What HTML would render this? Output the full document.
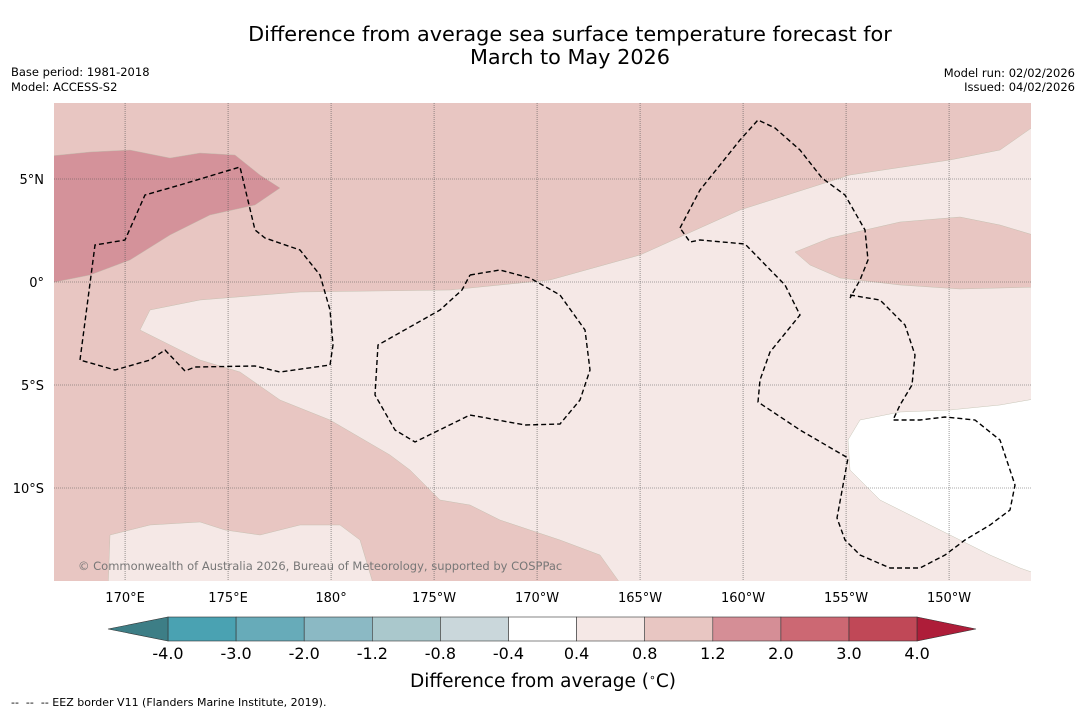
<!DOCTYPE html>
<html><head><meta charset="utf-8"><style>
body{margin:0;background:#fff;font-family:"Liberation Sans","DejaVu Sans",sans-serif}
svg{display:block}
text{font-family:"DejaVu Sans","Liberation Sans",sans-serif;white-space:pre}
</style></head><body>
<svg id="chart" width="1085" height="713" viewBox="0 0 1085 713">
<text x="570" y="41" font-size="20.8" text-anchor="middle">Difference from average sea surface temperature forecast for</text>
<text x="570" y="64" font-size="20.8" text-anchor="middle">March to May 2026</text>
<text x="11" y="76" font-size="11.5">Base period: 1981-2018</text>
<text x="11" y="91" font-size="11.5">Model: ACCESS-S2</text>
<text x="1075" y="77" font-size="11.5" text-anchor="end">Model run: 02/02/2026</text>
<text x="1075" y="91" font-size="11.5" text-anchor="end">Issued: 04/02/2026</text>
<defs><clipPath id="mapclip"><rect x="54" y="103" width="977" height="478"/></clipPath></defs>
<g id="map" clip-path="url(#mapclip)"></g>
<g id="axes"></g>
<g id="cbar"></g>
<text x="543" y="687" font-size="18.5" text-anchor="middle">Difference from average (<tspan baseline-shift="super" font-size="11">∘</tspan>C)</text>
<text x="11" y="706" font-size="11" xml:space="preserve">--  --  -- EEZ border V11 (Flanders Marine Institute, 2019).</text>
</svg>
<script>
const lonTicks=[170,175,180,185,190,195,200,205,210];
const lonLabels=["170°E","175°E","180°","175°W","170°W","165°W","160°W","155°W","150°W"];
const latTicks=[5,0,-5,-10];
const latLabels=["5°N","0°","5°S","10°S"];
const cbLevels=["-4.0","-3.0","-2.0","-1.2","-0.8","-0.4","0.4","0.8","1.2","2.0","3.0","4.0"];
const cbColors=["#4aa2b2","#67abb9","#8bb9c4","#aac8cc","#cad7db","#ffffff","#f5e8e6","#e8c6c2","#d58e96","#cc6873","#c04857"];
const cbUnder="#3d7e86", cbOver="#ae1d39";
function P(px){return px.map(p=>[166.55+(p[0]-54)/20.6,(282-p[1])/20.6]);}
const regionBase={color:"#e8c6c2",pts:P([[40,90],[1040,90],[1040,590],[40,590]])};
const regionLight={color:"#f5e8e6",pts:P([[140,330],[150,310],[200,300],[300,292],[450,290],[550,280],[640,255],[740,210],[850,175],[950,160],[1000,150],[1040,122],[1040,590],[625,590],[600,555],[560,540],[500,520],[470,505],[440,500],[410,470],[390,455],[330,420],[280,400],[240,372],[200,360],[170,345]])};
const regionLight2={color:"#f5e8e6",pts:P([[108,590],[110,535],[150,525],[200,522],[225,530],[260,535],[300,525],[340,525],[360,540],[375,590]])};
const regionMed={color:"#e8c6c2",pts:P([[795,252],[830,238],[900,222],[960,217],[1000,225],[1040,237],[1040,287],[960,289],[900,285],[840,278],[810,265]])};
const regionWhite={color:"#ffffff",pts:P([[848,440],[860,420],[900,412],[950,410],[1000,405],[1040,398],[1040,575],[1020,568],[990,555],[940,530],[880,500],[850,470]])};
const regionDark={color:"#d4929a",pts:P([[40,157],[90,152],[130,150],[170,158],[200,153],[235,155],[260,175],[280,188],[255,205],[210,215],[170,235],[130,260],[90,275],[40,285]])};
const regions=[regionBase,regionLight,regionLight2,regionMed,regionWhite,regionDark];
const eez1=P([[80,360],[95,245],[125,240],[145,195],[180,185],[240,167],[255,230],[265,238],[300,250],[320,275],[330,310],[333,345],[330,365],[280,372],[255,366],[195,367],[185,371],[165,350],[150,360],[115,370],[80,360]]);
const eez2=P([[470,275],[500,270],[530,278],[560,295],[585,330],[590,370],[580,400],[560,424],[525,425],[470,415],[415,442],[395,430],[375,395],[378,345],[440,310],[462,290],[470,275]]);
const eez3=P([[680,228],[700,190],[740,140],[758,120],[775,128],[800,150],[822,178],[845,195],[865,230],[868,260],[860,280],[850,298]]);
const eez4=P([[850,295],[880,300],[905,325],[915,355],[912,385],[900,405],[893,420],[920,420],[945,417],[975,420],[1000,440],[1015,485],[1010,510],[990,525],[965,540],[945,555],[920,568],[890,568],[860,555],[845,540],[837,518],[848,458],[800,430],[758,402],[760,380],[770,352],[800,315],[785,285],[745,244],[700,240],[690,242],[680,228]]);
const eezLines=[eez1,eez2,eez3,eez4];

const NS="http://www.w3.org/2000/svg";
const xS=lon=>54+(lon-166.55)*20.6;
const yS=lat=>282-lat*20.6;
function mk(tag,attrs,parent){const e=document.createElementNS(NS,tag);for(const k in attrs)e.setAttribute(k,attrs[k]);parent.appendChild(e);return e;}
const map=document.getElementById('map');
regions.forEach((r,i)=>{const e=mk('polygon',{points:r.pts.map(p=>xS(p[0])+','+yS(p[1])).join(' '),fill:r.color,stroke:i?'#bba':'none','stroke-width':0.4},map);

});
lonTicks.forEach(l=>{const e=mk('line',{x1:xS(l),x2:xS(l),y1:103,y2:581,stroke:'#555','stroke-width':0.6,'stroke-dasharray':'1,1'},map);

});
latTicks.forEach(l=>{const e=mk('line',{x1:54,x2:1031,y1:yS(l),y2:yS(l),stroke:'#555','stroke-width':0.6,'stroke-dasharray':'1,1'},map);

});
eezLines.forEach(L=>{const e=mk('polyline',{points:L.map(p=>xS(p[0])+','+yS(p[1])).join(' '),fill:'none',stroke:'#000','stroke-width':1.4,'stroke-dasharray':'5,3'},map);

});
const cp=mk('text',{x:78,y:570,'font-size':11.5,fill:'#777'},map);cp.textContent='© Commonwealth of Australia 2026, Bureau of Meteorology, supported by COSPPac';


const ax=document.getElementById('axes');
lonTicks.forEach((l,i)=>{const t=mk('text',{x:xS(l),y:602,'font-size':13,'text-anchor':'middle'},ax);t.textContent=lonLabels[i];

});
latTicks.forEach((l,i)=>{const t=mk('text',{x:44,y:yS(l)+5,'font-size':13,'text-anchor':'end'},ax);t.textContent=latLabels[i];

});
const cb=document.getElementById('cbar');
const bx=i=>168+i*68.1;
cbColors.forEach((c,i)=>{const r=mk('rect',{x:bx(i),y:617,width:68.1,height:24,fill:c,stroke:'#333','stroke-width':0.6},cb);

});
const u=mk('polygon',{points:`108,629 168,617 168,641`,fill:cbUnder,stroke:'#333','stroke-width':0.6},cb);


const o=mk('polygon',{points:`${bx(11)},617 976,629 ${bx(11)},641`,fill:cbOver,stroke:'#333','stroke-width':0.6},cb);


cbLevels.forEach((s,i)=>{const t=mk('text',{x:bx(i),y:659,'font-size':16,'text-anchor':'middle'},cb);t.textContent=s;

});
</script>
</body></html>
